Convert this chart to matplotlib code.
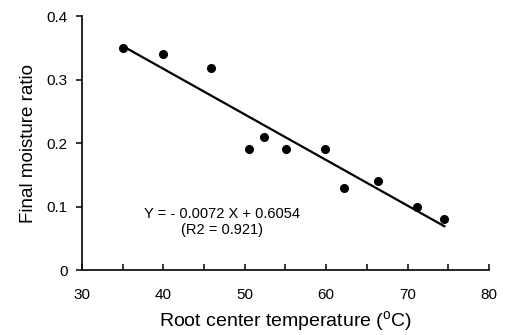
import matplotlib.pyplot as plt
import numpy as np
from matplotlib.ticker import MultipleLocator

plt.rcParams['font.family'] = ['Liberation Sans', 'DejaVu Sans']

temp = [35.0, 40.0, 45.8, 50.5, 52.4, 55.1, 59.9, 62.2, 66.3, 71.2, 74.4]
moisture = [0.350, 0.341, 0.319, 0.191, 0.210, 0.191, 0.191, 0.129, 0.140, 0.100, 0.080]
slope = -0.0072
intercept = 0.6054
fit_range = [35.0, 74.5]

fig = plt.figure(figsize=(5.08, 3.35), dpi=100)
ax = fig.add_axes([0.161, 0.194, 0.802, 0.757])

ax.plot(temp, moisture, 'o', color='black', markersize=5.5)
xf = np.array(fit_range)
ax.plot(xf, slope * xf + intercept, color='black', linewidth=1.6)

ax.text(47.2, 0.088, "Y = - 0.0072 X + 0.6054", ha='center', va='center', fontsize=10.5)
ax.text(47.2, 0.063, "(R2 = 0.921)", ha='center', va='center', fontsize=10.5)

ax.set_xlim(30, 80)
ax.set_ylim(0, 0.4)
ax.xaxis.set_major_locator(MultipleLocator(10))
ax.xaxis.set_minor_locator(MultipleLocator(5))
ax.set_yticks([0, 0.1, 0.2, 0.3, 0.4])
ax.set_yticklabels(['0', '0.1', '0.2', '0.3', '0.4'])

ax.spines['top'].set_visible(False)
ax.spines['right'].set_visible(False)
ax.spines['left'].set_linewidth(1.2)
ax.spines['bottom'].set_linewidth(1.2)
ax.tick_params(axis='x', which='both', direction='in', length=4, width=1.1, labelsize=11, pad=13)
ax.tick_params(axis='y', which='major', direction='out', length=4, width=1.1, labelsize=11, pad=6)

ax.set_xlabel("Root center temperature ($^\\mathregular{o}$C)", fontsize=14, labelpad=5)
ax.set_ylabel("Final moisture ratio", fontsize=13.5, labelpad=7)

fig.savefig("out.png", dpi=100)
